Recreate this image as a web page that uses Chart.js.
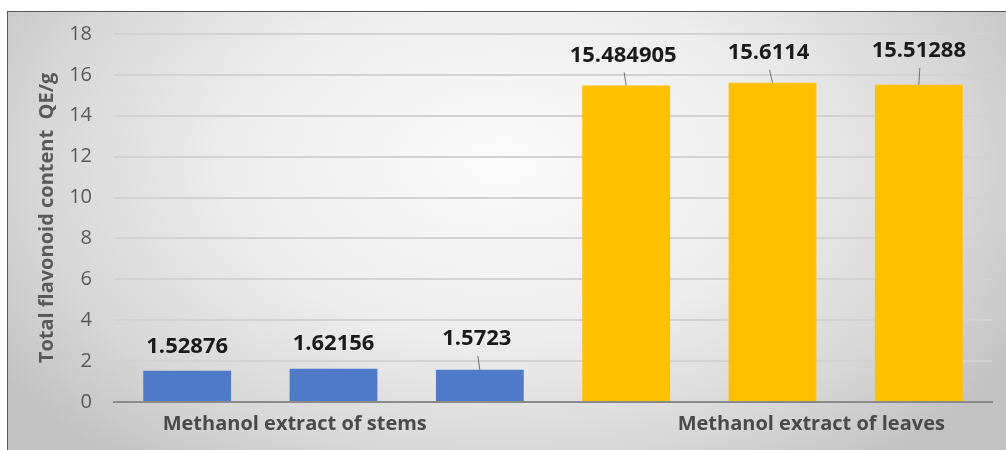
<!DOCTYPE html>
<html>
<head>
<meta charset="utf-8">
<script src="https://cdn.jsdelivr.net/npm/chart.js@4.4.1/dist/chart.umd.min.js"></script>
<style>
  html, body { margin: 0; padding: 0; width: 1006px; height: 450px; overflow: hidden; background: #ffffff; }
  #frame {
    position: absolute; left: 7px; top: 11px; width: 1010px; height: 460px;
    border: 1.5px solid #555555; box-sizing: border-box;
    background: radial-gradient(ellipse 600px 390px at 493px 150px, #fbfbfb 0%, #ededed 45%, #d6d6d6 78%, #c2c2c2 100%);
  }
  #wrap { position: absolute; left: 0; top: 0; width: 1006px; height: 450px; }
</style>
</head>
<body>
<div id="frame"></div>
<div id="wrap"><canvas id="chart" width="1006" height="450"></canvas></div>
<script>
// Samples (three replicates per extract)
const samples = ["Stem 1", "Stem 2", "Stem 3", "Leaf 1", "Leaf 2", "Leaf 3"];
const flavonoidValues = [1.52876, 1.62156, 1.5723, 15.484905, 15.6114, 15.51288];
const valueLabels = ["1.52876", "1.62156", "1.5723", "15.484905", "15.6114", "15.51288"];
const barColors = ["#4f7ac7", "#4f7ac7", "#4f7ac7", "#ffc000", "#ffc000", "#ffc000"];
const groupNames = ["Methanol extract of stems", "Methanol extract of leaves"];
const yTicks = [0, 2, 4, 6, 8, 10, 12, 14, 16, 18];
const yTitle = "Total flavonoid content  QE/g";

// Label placement: offset of label centre from the bar top, and whether a leader line is drawn
const labelOffsets = [
  { dx: 0, dy: -24, leader: false },
  { dx: 0, dy: -25, leader: false },
  { dx: -3, dy: -31, leader: true },
  { dx: -3, dy: -30, leader: true },
  { dx: -4, dy: -30, leader: true },
  { dx: 0, dy: -34, leader: true }
];

const FONT = '"Open Sans", "Liberation Sans", sans-serif';

const annotations = {
  id: 'annotations',
  afterDatasetsDraw(chart) {
    const ctx = chart.ctx;
    const meta = chart.getDatasetMeta(0);
    const area = chart.chartArea;
    const x = chart.scales.x;
    ctx.save();
    // value labels with leader lines
    ctx.font = 'bold 22px ' + FONT;
    ctx.textAlign = 'center';
    ctx.textBaseline = 'middle';
    meta.data.forEach((bar, i) => {
      const off = labelOffsets[i];
      const cx = bar.x + off.dx;
      const cy = bar.y + off.dy;
      ctx.fillStyle = '#1a1a1a';
      ctx.fillText(valueLabels[i], cx, cy);
      if (off.leader) {
        ctx.strokeStyle = '#6f6f6f';
        ctx.lineWidth = 1;
        ctx.beginPath();
        ctx.moveTo(cx + 1, cy + 17);
        ctx.lineTo(bar.x, bar.y);
        ctx.stroke();
      }
    });
    // group labels under the category axis
    const step = x.getPixelForValue(1) - x.getPixelForValue(0);
    const stemsX = x.getPixelForValue(1) - 0.265 * step;
    const leavesX = x.getPixelForValue(4) + 0.265 * step;
    ctx.font = 'bold 20px ' + FONT;
    ctx.fillStyle = '#4a4a4a';
    ctx.fillText(groupNames[0], stemsX, area.bottom + 22);
    ctx.fillText(groupNames[1], leavesX, area.bottom + 22);
    // rotated axis title
    ctx.translate(47, (area.top + area.bottom) / 2);
    ctx.rotate(-Math.PI / 2);
    ctx.font = 'bold 20px ' + FONT;
    ctx.fillStyle = '#595959';
    ctx.fillText(yTitle, 0, 0);
    ctx.restore();
  }
};

new Chart(document.getElementById('chart'), {
  type: 'bar',
  data: {
    labels: samples,
    datasets: [{
      data: flavonoidValues,
      backgroundColor: barColors,
      borderWidth: 0,
      barPercentage: 0.6,
      categoryPercentage: 1.0
    }]
  },
  options: {
    responsive: false,
    animation: false,
    events: [],
    layout: { padding: { top: 33, right: 14, left: 0, bottom: 0 } },
    plugins: { legend: { display: false }, tooltip: { enabled: false }, title: { display: false } },
    scales: {
      x: {
        grid: { display: false, drawTicks: false },
        border: { display: true, color: '#8a8a8a', width: 2 },
        ticks: { display: false },
        afterFit(scale) { scale.height = 48; }
      },
      y: {
        min: 0,
        max: 18,
        afterBuildTicks(scale) { scale.ticks = yTicks.map(v => ({ value: v })); },
        grid: { color: '#d2d2d2', lineWidth: 2, drawTicks: false },
        border: { display: false },
        ticks: { color: '#595959', font: { family: FONT, size: 20 }, padding: 22 },
        afterFit(scale) { scale.width = 114; }
      }
    }
  },
  plugins: [annotations]
});
</script>
</body>
</html>
